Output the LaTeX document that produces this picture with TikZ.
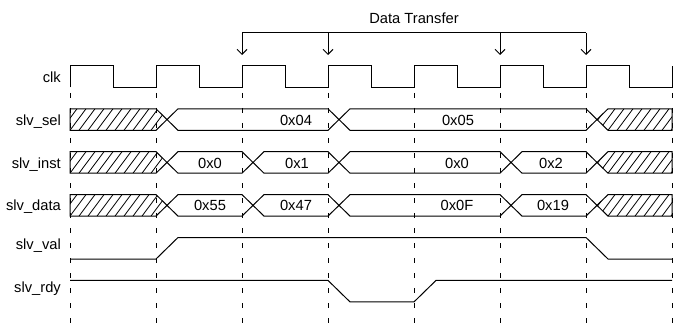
\documentclass[tikz,border=0pt]{standalone}
\usepackage{fontspec}
\setmainfont{Liberation Sans}
\usetikzlibrary{arrows.meta}
\tikzset{
  x=1pt, y=-1pt,
  sig/.style={line width=1pt, line join=miter},
  hatchln/.style={line width=0.8pt},
  grid/.style={line width=1pt, dash pattern=on 5pt off 10pt},
  lbl/.style={anchor=base east, inner sep=0pt, font=\fontsize{14.7}{17}\selectfont},
  val/.style={anchor=base, inner sep=0pt, font=\fontsize{14.7}{17}\selectfont},
  xfer/.style={line width=1pt, -{Straight Barb[length=5pt,width=10pt,line width=1pt]}},
}
\newcommand{\busseg}[4]{% T B a b
  \draw[sig] ({#3+11},{(#1+#2)/2}) -- ({#3+22},#1) -- (#4,#1) -- ({#4+11},{(#1+#2)/2}) -- (#4,#2) -- ({#3+22},#2) -- cycle;}
\newcommand{\hatchleft}[2]{% T B
  \begin{scope}
    \clip (70,#1) -- (156,#1) -- (167,{(#1+#2)/2}) -- (156,#2) -- (70,#2) -- cycle;
    \foreach \k in {-3,...,12} \draw[hatchln] ({70+9*\k},#2) -- ++(16,{-(#2-#1)});
  \end{scope}
  \draw[sig] (70,#1) -- (156,#1) -- (167,{(#1+#2)/2}) -- (156,#2) -- (70,#2) -- cycle;}
\newcommand{\hatchright}[2]{% T B
  \begin{scope}
    \clip (597,{(#1+#2)/2}) -- (608,#1) -- (672,#1) -- (672,#2) -- (608,#2) -- cycle;
    \foreach \k in {-3,...,10} \draw[hatchln] ({590+9*\k},#2) -- ++(16,{-(#2-#1)});
  \end{scope}
  \draw[sig] (597,{(#1+#2)/2}) -- (608,#1) -- (672,#1) -- (672,#2) -- (608,#2) -- cycle;}
\begin{document}
\begin{tikzpicture}
\useasboundingbox (0,0) rectangle (679,323);
% grid lines
\foreach \e in {70,156,242,328,414,500,586,672}
  \draw[grid] (\e,93) -- (\e,323);
% data transfer bracket
\coordinate (a2) at (242,33); \coordinate (t2) at (242,55);
\coordinate (a3) at (328,33); \coordinate (t3) at (328,55);
\coordinate (a5) at (500,33); \coordinate (t5) at (500,55);
\coordinate (a6) at (586,33); \coordinate (t6) at (586,55);
\draw[sig] (a2) -- (a6);
\draw[xfer] (a2) -- (t2);
\draw[xfer] (a3) -- (t3);
\draw[xfer] (a5) -- (t5);
\draw[xfer] (a6) -- (t6);
\node[val] (dt) at (414,23.3) {Data Transfer};
% labels
\node[lbl] (lclk) at (61,82.3) {clk};
\node[lbl] (lsel) at (61,125.1) {slv\_sel};
\node[lbl] (linst) at (61,168) {slv\_inst};
\node[lbl] (ldata) at (61,210.9) {slv\_data};
\node[lbl] (lval) at (61,249.5) {slv\_val};
\node[lbl] (lrdy) at (61,292.2) {slv\_rdy};
% clock
\draw[sig] (70,87.5) -- (70,66) -- (113,66) -- (113,87.5) -- (156,87.5) -- (156,66)
  -- (199,66) -- (199,87.5) -- (242,87.5) -- (242,66) -- (285,66) -- (285,87.5)
  -- (328,87.5) -- (328,66) -- (371,66) -- (371,87.5) -- (414,87.5) -- (414,66)
  -- (457,66) -- (457,87.5) -- (500,87.5) -- (500,66) -- (543,66) -- (543,87.5)
  -- (586,87.5) -- (586,66) -- (629,66) -- (629,87.5) -- (672,87.5) -- (672,66);
% slv_sel
\hatchleft{108.8}{130.3}
\busseg{108.8}{130.3}{156}{328}
\busseg{108.8}{130.3}{328}{586}
\hatchright{108.8}{130.3}
\node[val] (s1) at (296,125.1) {0x04};
\node[val] (s2) at (458,125.1) {0x05};
% slv_inst
\hatchleft{151.7}{173.2}
\busseg{151.7}{173.2}{156}{242}
\busseg{151.7}{173.2}{242}{328}
\busseg{151.7}{173.2}{328}{500}
\busseg{151.7}{173.2}{500}{586}
\hatchright{151.7}{173.2}
\node[val] (i1) at (210,168) {0x0};
\node[val] (i2) at (297,168) {0x1};
\node[val] (i3) at (457,168) {0x0};
\node[val] (i4) at (551,168) {0x2};
% slv_data
\hatchleft{194.6}{216.1}
\busseg{194.6}{216.1}{156}{242}
\busseg{194.6}{216.1}{242}{328}
\busseg{194.6}{216.1}{328}{500}
\busseg{194.6}{216.1}{500}{586}
\hatchright{194.6}{216.1}
\node[val] (d1) at (210,210.9) {0x55};
\node[val] (d2) at (296,210.9) {0x47};
\node[val] (d3) at (457,210.9) {0x0F};
\node[val] (d4) at (553,210.9) {0x19};
% slv_val
\draw[sig] (70,259) -- (156,259) -- (178,237.5) -- (586,237.5) -- (608,259) -- (672,259);
% slv_rdy
\draw[sig] (70,280.4) -- (328,280.4) -- (350,301.9) -- (414,301.9) -- (436,280.4) -- (672,280.4);
\end{tikzpicture}
\end{document}
